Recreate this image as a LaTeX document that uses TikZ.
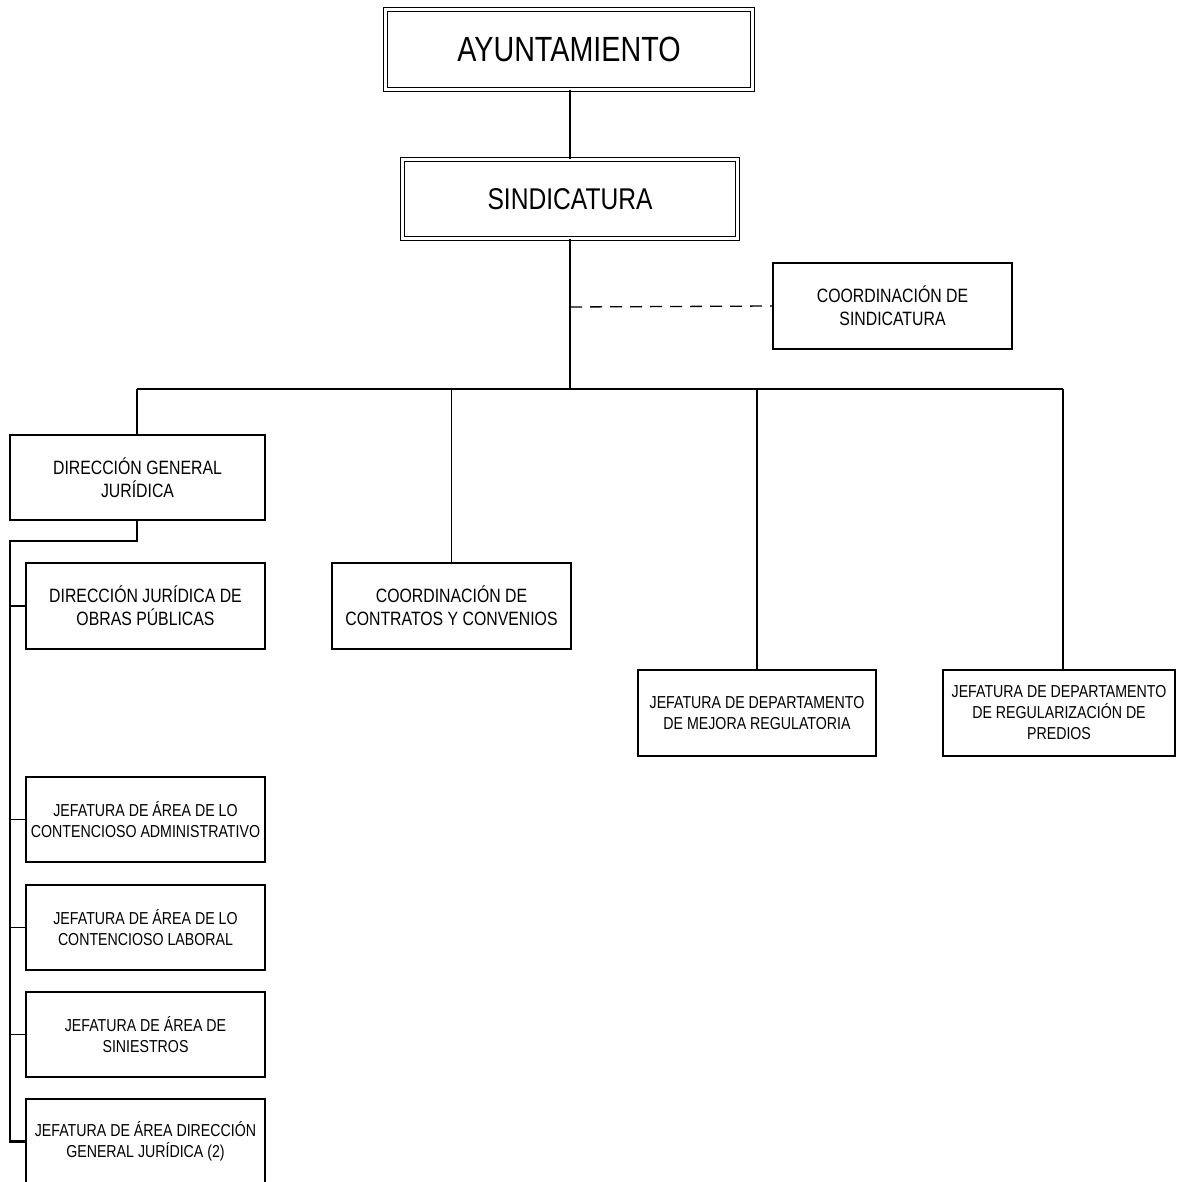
\documentclass[tikz,border=0pt]{standalone}
\usepackage{fontspec}
\setmainfont{Liberation Sans}[FakeStretch=0.82]
\begin{document}
\begin{tikzpicture}[x=1pt,y=-1pt,
  dbox/.style={draw, double, double distance=2.4pt, line width=1.2pt, inner sep=0pt, align=center, font=\fontsize{35}{40}\selectfont},
  mbox/.style={draw, line width=1.3pt, inner sep=0pt, align=center, minimum width=239pt, minimum height=86pt, font=\fontsize{19.3}{23}\selectfont},
  sbox/.style={draw, line width=1.3pt, inner sep=0pt, align=center, minimum width=239pt, minimum height=86pt, font=\fontsize{17.3}{21}\selectfont},
  conn/.style={line width=1.2pt},
  thick conn/.style={line width=2.2pt},
  dconn/.style={line width=1.3pt, dash pattern=on 12pt off 8pt}]
\clip (0,0) rectangle (1176,1182);
\fill[white] (0,0) rectangle (1176,1182);

\node[dbox, minimum width=367pt, minimum height=80pt] (ayu) at (569,49.5) {AYUNTAMIENTO};
\node[dbox, minimum width=335pt, minimum height=79pt, font=\fontsize{30}{35}\selectfont] (sind) at (570,199) {SINDICATURA};

\node[mbox] (coords) at (892.5,306) {COORDINACIÓN DE\\SINDICATURA};
\node[mbox, minimum width=255pt, minimum height=85pt] (dgj) at (137.5,477.5) {DIRECCIÓN GENERAL\\JURÍDICA};
\node[mbox] (djop) at (145.5,606) {DIRECCIÓN JURÍDICA DE\\OBRAS PÚBLICAS};
\node[mbox] (ccc) at (451.5,606) {COORDINACIÓN DE\\CONTRATOS Y CONVENIOS};
\node[sbox, minimum width=238pt] (jmr) at (757,713) {JEFATURA DE DEPARTAMENTO\\DE MEJORA REGULATORIA};
\node[sbox, minimum width=232pt] (jrp) at (1059,713) {JEFATURA DE DEPARTAMENTO\\DE REGULARIZACIÓN DE\\PREDIOS};
\node[sbox, minimum height=85pt] (jca) at (145.5,819.5) {JEFATURA DE ÁREA DE LO\\CONTENCIOSO ADMINISTRATIVO};
\node[sbox, minimum height=85pt] (jcl) at (145.5,927.5) {JEFATURA DE ÁREA DE LO\\CONTENCIOSO LABORAL};
\node[sbox, minimum height=85pt] (jsi) at (145.5,1034.5) {JEFATURA DE ÁREA DE\\SINIESTROS};
\node[sbox, minimum height=85pt] (jdg) at (145.5,1141.5) {JEFATURA DE ÁREA DIRECCIÓN\\GENERAL JURÍDICA (2)};

\coordinate (busL) at (137,389);
\coordinate (busR) at (1063,389);
\coordinate (busC) at (570,389);
\coordinate (dsh) at (570,307);
\coordinate (elbow) at (137,541);
\coordinate (left) at (10,541);

\draw[conn] (ayu.south -| sind.north) -- (sind.north);
\draw[thick conn] (sind.south) -- (busC);
\draw[dconn] (dsh) -- (coords.west);
\draw[line width=1.5pt] (busL) -- (busR);
\draw[conn] (busL) -- (busL |- dgj.north);
\draw[conn] (ccc.north |- busL) -- (ccc.north);
\draw[conn] (jmr.north |- busL) -- (jmr.north);
\draw[conn] (busR) -- (busR |- jrp.north);
\draw[thick conn] (dgj.south -| elbow) -- (elbow) -- (left) -- (left |- jdg.west) -- (jdg.west);
\draw[conn] (left |- djop.west) -- (djop.west);
\draw[conn] (left |- jca.west) -- (jca.west);
\draw[conn] (left |- jcl.west) -- (jcl.west);
\draw[conn] (left |- jsi.west) -- (jsi.west);
\end{tikzpicture}
\end{document}
